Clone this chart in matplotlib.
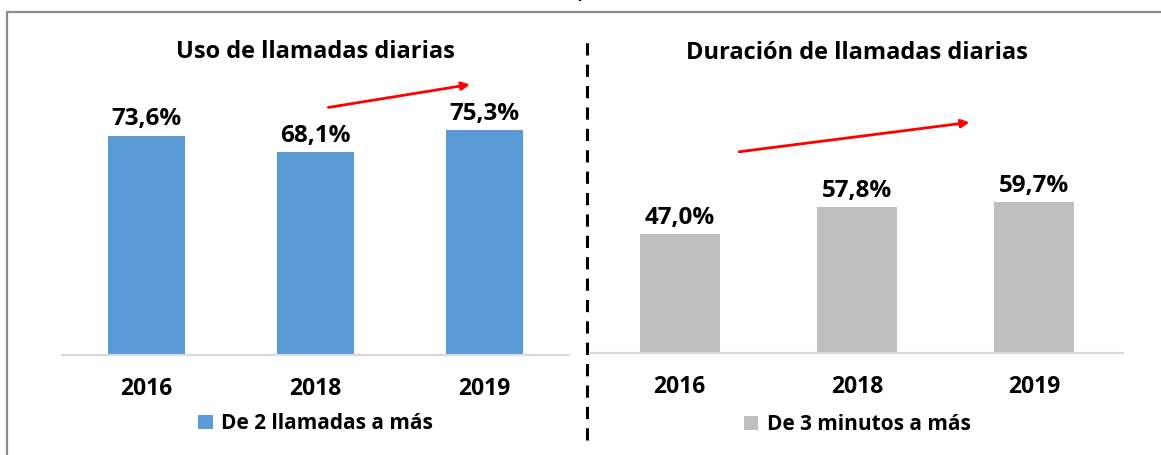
import matplotlib.pyplot as plt
from matplotlib.patches import Rectangle
from matplotlib.lines import Line2D

plt.rcParams['font.family'] = ['Open Sans', 'DejaVu Sans']
plt.rcParams['font.weight'] = 'bold'

# datos
anios = ['2016', '2018', '2019']
llamadas = [73.6, 68.1, 75.3]      # de 2 llamadas a más
minutos = [47.0, 57.8, 59.7]       # de 3 minutos a más

azul = '#5B9BD5'
gris = '#BFBFBF'

fig = plt.figure(figsize=(11.61, 4.55), dpi=100)

# marco gris
fig.patches.append(Rectangle((7 / 1161, -0.1), 1.2, 1 - 12 / 455 + 0.1,
                             transform=fig.transFigure, fill=False,
                             edgecolor='#8c8c8c', lw=1.6))
# titulo cortado arriba
fig.text(585 / 1161, 1.017, 'NACIONAL, 2016 - 2019', ha='center', va='center',
         fontsize=15, fontweight='bold')

# linea divisoria punteada
fig.add_artist(Line2D([587 / 1161, 587 / 1161], [1 - 440 / 455, 1 - 35 / 455],
                      transform=fig.transFigure, color='black', lw=2.2,
                      linestyle=(0, (4, 3))))


def panel(rect, valores, color, ymax, ancho, titulo, ty, leyenda, flecha, ley_y):
    ax = fig.add_axes(rect)
    x = range(len(valores))
    ax.bar(x, valores, width=ancho, color=color, label=leyenda)
    ax.set_xlim(-0.5, 2.5)
    ax.set_ylim(0, ymax)
    for i, v in enumerate(valores):
        ax.annotate(f'{v:.1f}%'.replace('.', ','), (i, v), xytext=(0, 3),
                    textcoords='offset points', ha='center', va='bottom',
                    fontsize=17.5, fontweight='bold')
    for s in ['top', 'right', 'left']:
        ax.spines[s].set_visible(False)
    ax.spines['bottom'].set_color('#d9d9d9')
    ax.spines['bottom'].set_linewidth(1.5)
    ax.set_yticks([])
    ax.set_xticks(list(x))
    ax.set_xticklabels(anios, fontsize=16.5, fontweight='bold')
    ax.tick_params(axis='x', length=0, pad=16)
    ax.set_title(titulo, fontsize=17, fontweight='bold', y=ty)
    ax.legend(loc='upper center', bbox_to_anchor=(0.5, ley_y), frameon=False,
              handlelength=0.7, handleheight=0.7,
              handletextpad=0.4, prop={'weight': 'bold', 'size': 15})
    ax.annotate('', xy=flecha[1], xytext=flecha[0],
                arrowprops=dict(arrowstyle='-|>', color='red', lw=2,
                                mutation_scale=12), annotation_clip=False)
    return ax


panel([62 / 1161, 1 - 354.5 / 455, 507 / 1161, 297.5 / 455], llamadas, azul,
      100, 0.46, 'Uso de llamadas diarias', 0.97, 'De 2 llamadas a más',
      ((1.06, 82.9), (1.93, 90.9)), -0.135)
panel([591 / 1161, 1 - 353 / 455, 532 / 1161, 303.6 / 455], minutos, gris,
      120, 0.45, 'Duración de llamadas diarias', 0.94, 'De 3 minutos a más',
      ((0.32, 79.4), (1.65, 91.3)), -0.14)

fig.savefig('out.png', dpi=100)
